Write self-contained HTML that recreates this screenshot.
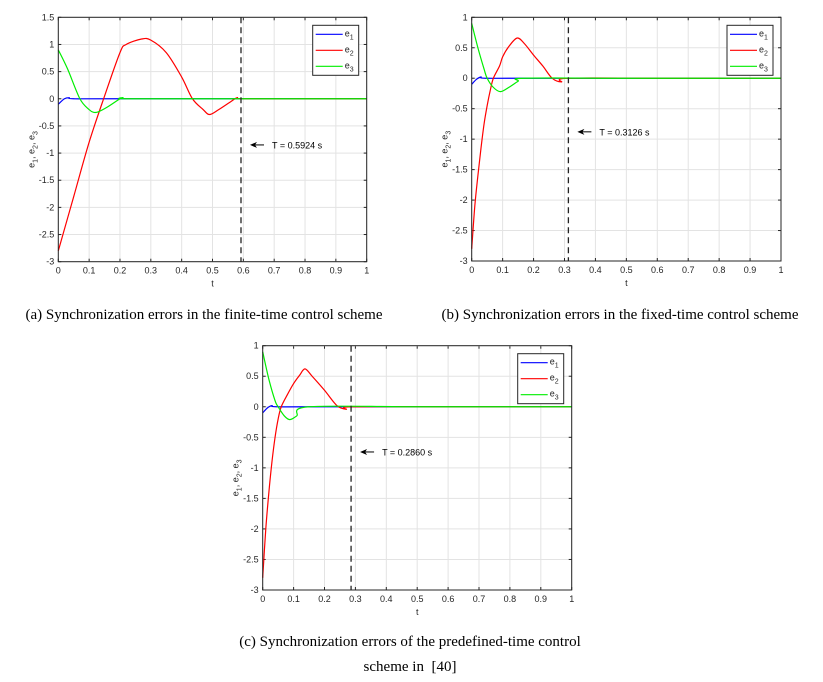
<!DOCTYPE html>
<html><head><meta charset="utf-8"><style>
html,body{margin:0;padding:0;background:#fff;width:823px;height:682px;overflow:hidden}
svg{display:block}
.tk{font:9px "Liberation Sans",sans-serif;fill:#262626}
.cap{font:15px "Liberation Serif",serif;fill:#000}
</style></head><body>
<svg id="s" width="823" height="682" xmlns="http://www.w3.org/2000/svg">
<text class="cap" x="204" y="319" text-anchor="middle">(a) Synchronization errors in the finite-time control scheme</text>
<text class="cap" x="620" y="319" text-anchor="middle">(b) Synchronization errors in the fixed-time control scheme</text>
<text class="cap" x="410" y="646" text-anchor="middle">(c) Synchronization errors of the predefined-time control</text>
<text class="cap" x="410" y="671" text-anchor="middle" style="white-space:pre">scheme in  [40]</text>
</svg>
<script>
const xTicks=[0,0.1,0.2,0.3,0.4,0.5,0.6,0.7,0.8,0.9,1];
const yTicksA=[1.5,1,0.5,0,-0.5,-1,-1.5,-2,-2.5,-3];
const yTicksBC=[1,0.5,0,-0.5,-1,-1.5,-2,-2.5,-3];
const aE1T=[0,0.02,0.035,0.05,0.2,1], aE1V=[-0.1,0,0.02,0,0,0];
const aE2T=[0,0.05,0.1,0.15,0.2,0.22,0.27,0.3,0.35,0.4,0.435,0.47,0.49,0.52,0.56,0.58,0.6,0.8,1];
const aE2V=[-2.8,-1.8,-0.8,0.05,0.85,1.0,1.1,1.08,0.85,0.4,0,-0.2,-0.29,-0.2,-0.05,0.02,0,0,0];
const aE3T=[0,0.03,0.07,0.1,0.115,0.13,0.16,0.2,0.21,0.22,0.5,1];
const aE3V=[0.9,0.55,0,-0.2,-0.25,-0.24,-0.15,0,0.02,0,0,0];
const bE1T=[0,0.015,0.03,0.045,0.2,1], bE1V=[-0.1,-0.02,0.02,0,0,0];
const bE2T=[0,0.01,0.02,0.03,0.04,0.05,0.06,0.07,0.09,0.1,0.12,0.147,0.17,0.2,0.23,0.26,0.29,0.31,0.6,1];
const bE2V=[-2.8,-2.1,-1.6,-1.15,-0.75,-0.45,-0.2,0,0.2,0.35,0.52,0.66,0.57,0.38,0.2,0,-0.06,0,0,0];
const bE3T=[0,0.02,0.04,0.05,0.07,0.093,0.12,0.15,0.17,0.5,1];
const bE3V=[0.9,0.5,0.15,0,-0.15,-0.22,-0.15,-0.05,0,0,0];
const cE1T=[0,0.015,0.03,0.045,0.2,1], cE1V=[-0.1,-0.02,0.02,0,0,0];
const cE2T=[0,0.01,0.02,0.03,0.04,0.05,0.06,0.08,0.1,0.12,0.137,0.16,0.2,0.24,0.27,0.29,0.6,1];
const cE2V=[-2.8,-2.0,-1.4,-0.9,-0.5,-0.2,0,0.2,0.38,0.52,0.62,0.5,0.27,0.02,-0.04,0,0,0];
const cE3T=[0,0.02,0.04,0.05,0.07,0.088,0.11,0.15,0.5,1];
const cE3V=[0.9,0.45,0.1,0,-0.15,-0.21,-0.15,0,0,0];
const settleT=[0.5924,0.3126,0.2860];
const settleLabels=["T = 0.5924 s","T = 0.3126 s","T = 0.2860 s"];
const NS="http://www.w3.org/2000/svg";
const svg=document.getElementById('s');
function mk(tag,attrs,parent){const e=document.createElementNS(NS,tag);for(const k in attrs)e.setAttribute(k,attrs[k]);(parent||svg).appendChild(e);return e;}
function smooth(P){let d='M'+P[0][0]+','+P[0][1];
  for(let i=0;i<P.length-1;i++){const p0=P[Math.max(i-1,0)],p1=P[i],p2=P[i+1],p3=P[Math.min(i+2,P.length-1)];
    const c1=[p1[0]+(p2[0]-p0[0])/6,p1[1]+(p2[1]-p0[1])/6],c2=[p2[0]-(p3[0]-p1[0])/6,p2[1]-(p3[1]-p1[1])/6];
    d+=` C${c1[0]},${c1[1]} ${c2[0]},${c2[1]} ${p2[0]},${p2[1]}`;}
  return d;}
function chart(id,x0,x1,y0,y1,ymax,yTicks,series,T,label,annY){
  const g=mk('g',{});
  
  
  const sx=t=>x0+(x1-x0)*t, sy=v=>y0+(y1-y0)*(ymax-v)/(ymax+3);
  const grid=mk('g',{},g);
  
  
  xTicks.forEach(t=>{mk('line',{x1:sx(t),x2:sx(t),y1:y0,y2:y1,stroke:'#e3e3e3','stroke-width':1},grid);
    mk('line',{x1:sx(t),x2:sx(t),y1:y1,y2:y1-3,stroke:'#262626'},grid);mk('line',{x1:sx(t),x2:sx(t),y1:y0,y2:y0+3,stroke:'#262626'},grid);
    const tx=mk('text',{x:sx(t),y:y1+12,'text-anchor':'middle',class:'tk'},g);tx.textContent=String(t);
    
    });
  yTicks.forEach(v=>{mk('line',{x1:x0,x2:x1,y1:sy(v),y2:sy(v),stroke:'#e3e3e3'},grid);
    mk('line',{x1:x0,x2:x0+3,y1:sy(v),y2:sy(v),stroke:'#262626'},grid);mk('line',{x1:x1,x2:x1-3,y1:sy(v),y2:sy(v),stroke:'#262626'},grid);
    const tx=mk('text',{x:x0-4,y:sy(v)+3,'text-anchor':'end',class:'tk'},g);tx.textContent=String(v);
    
    });
  const cols=['#0000ff','#ff0000','#00ee00'];
  series.forEach((s,i)=>{const p=mk('path',{d:smooth(s[0].map((t,j)=>[sx(t),sy(s[1][j])])),fill:'none',stroke:cols[i],'stroke-width':1.2},g);
    
    });
  const vl=mk('line',{x1:sx(T),x2:sx(T),y1:y0,y2:y1,stroke:'#222','stroke-width':1.3,'stroke-dasharray':'6,4'},g);
  
  
  mk('rect',{x:x0,y:y0,width:x1-x0,height:y1-y0,fill:'none',stroke:'#262626'},g);
  const ax=sx(T)+9, ay=sy(annY);
  const ar=mk('g',{},g);
  
  
  mk('line',{x1:ax+3,x2:ax+14,y1:ay,y2:ay,stroke:'#000','stroke-width':1},ar);
  mk('path',{d:`M${ax},${ay} l7,-3 l-2,3 l2,3 z`,fill:'#000'},ar);
  const at=mk('text',{x:ax+22,y:ay+3.5,class:'tk',style:'fill:#000'},ar);at.textContent=label;
  const lg=mk('g',{},g);
  
  
  const lx=x1-54, ly=y0+8;
  mk('rect',{x:lx,y:ly,width:46,height:50,fill:'#fff',stroke:'#262626'},lg);
  for(let i=0;i<3;i++){mk('line',{x1:lx+3,x2:lx+30,y1:ly+9+i*16,y2:ly+9+i*16,stroke:cols[i],'stroke-width':1.2},lg);
    const t=mk('text',{x:lx+32,y:ly+11+i*16,class:'tk','font-style':'italic'},lg);
    t.innerHTML='e<tspan font-size="7" dy="3">'+(i+1)+'</tspan>';
    
    }
  const xl=mk('text',{x:(x0+x1)/2,y:y1+25,class:'tk','font-style':'italic','text-anchor':'middle'},g);xl.textContent='t';
  
  
  const yl=mk('text',{x:0,y:0,class:'tk','font-style':'italic','text-anchor':'middle',transform:`translate(${x0-24},${(y0+y1)/2+10}) rotate(-90)`},g);
  yl.innerHTML='e<tspan font-size="7" dy="3">1</tspan><tspan dy="-3">, e</tspan><tspan font-size="7" dy="3">2</tspan><tspan dy="-3">, e</tspan><tspan font-size="7" dy="3">3</tspan>';
  
  
}
chart('a',58.3,366.7,17.3,261.7,1.5,yTicksA,[[aE1T,aE1V],[aE2T,aE2V],[aE3T,aE3V]],settleT[0],settleLabels[0],-0.85);
chart('b',471.7,781,17.3,261,1,yTicksBC,[[bE1T,bE1V],[bE2T,bE2V],[bE3T,bE3V]],settleT[1],settleLabels[1],-0.88);
chart('c',262.7,571.7,345.7,590,1,yTicksBC,[[cE1T,cE1V],[cE2T,cE2V],[cE3T,cE3V]],settleT[2],settleLabels[2],-0.74);
</script>
</body></html>
